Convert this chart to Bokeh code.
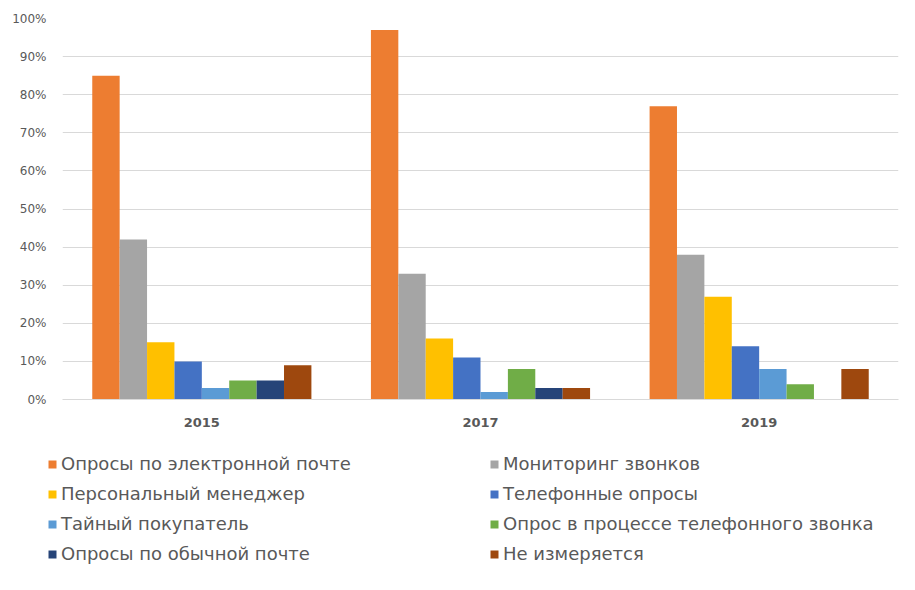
from bokeh.plotting import figure
from bokeh.models import FactorRange, Legend, LegendItem, PrintfTickFormatter, ColumnDataSource
from bokeh.layouts import column, row
from bokeh.transform import dodge
from bokeh.embed import file_html
from bokeh.resources import INLINE

years = ["2015", "2017", "2019"]
series = ["Опросы по электронной почте", "Мониторинг звонков", "Персональный менеджер",
          "Телефонные опросы", "Тайный покупатель", "Опрос в процессе телефонного звонка",
          "Опросы по обычной почте", "Не измеряется"]
colors = ["#ED7D31", "#A5A5A5", "#FFC000", "#4472C4", "#5B9BD5", "#70AD47", "#264478", "#9E480E"]
email = [85, 97, 77]
calls = [42, 33, 38]
manager = [15, 16, 27]
phone = [10, 11, 14]
mystery = [3, 2, 8]
incall = [5, 8, 4]
mail = [5, 3, 0]
notmeasured = [9, 3, 8]
values = [email, calls, manager, phone, mystery, incall, mail, notmeasured]
yticks = list(range(0, 101, 10))

FONT = "DejaVu Sans"
p = figure(x_range=FactorRange(*years), y_range=(0, 100), width=907, height=440,
           output_backend="svg", toolbar_location=None,
           min_border_left=62, min_border_right=9, min_border_top=18, min_border_bottom=41)
p.outline_line_color = None
p.xgrid.grid_line_color = None
p.ygrid.grid_line_color = "#D9D9D9"
p.ygrid.ticker = yticks
p.yaxis.ticker = yticks
p.yaxis.formatter = PrintfTickFormatter(format="%d%%")
for ax in (p.xaxis, p.yaxis):
    ax.major_tick_line_color = None
    ax.minor_tick_line_color = None
    ax.major_label_text_color = "#595959"
    ax.major_label_text_font = FONT
p.yaxis.axis_line_color = None
p.xaxis.axis_line_color = "#D9D9D9"
p.yaxis.major_label_text_font_size = "12px"
p.yaxis.major_label_standoff = 10
p.xaxis.major_label_text_font_size = "13px"
p.xaxis.major_label_text_font_style = "bold"
p.xaxis.major_label_standoff = 12

w = 0.0983
for i, (vals, c) in enumerate(zip(values, colors)):
    src = ColumnDataSource(dict(year=years, v=vals))
    p.vbar(x=dodge("year", (i - 3.5) * w, range=p.x_range), top="v", width=w,
           source=src, fill_color=c, line_color=None)

# legend panel below the chart (swatch renderers have zero height, so they draw nothing)
lp = figure(width=907, height=150, x_range=(0, 1), y_range=(0, 1), output_backend="svg",
            toolbar_location=None, min_border=0)
lp.axis.visible = False
lp.grid.visible = False
lp.outline_line_color = None
swatch = {}
for name, c in zip(series, colors):
    swatch[name] = lp.vbar(x=[0], top=[0], bottom=[0], width=0.1, fill_color=c, line_color=None)
# Bokeh fills legend columns first; order so that rows read pairwise like the original
order = [0, 2, 4, 6, 1, 3, 5, 7]
items = [LegendItem(label=series[k], renderers=[swatch[series[k]]]) for k in order]
legend = Legend(items=items, ncols=2, location=(47, 26), orientation="vertical",
                glyph_width=10, glyph_height=10, label_text_font=FONT, label_text_font_size="18px",
                label_text_color="#595959", label_standoff=4, spacing=9, label_width=419,
                label_height=20, border_line_color=None, background_fill_alpha=0,
                padding=0, margin=0)
lp.add_layout(legend, "center")

open("out.html", "w").write(file_html(column(p, row(lp)), INLINE))
